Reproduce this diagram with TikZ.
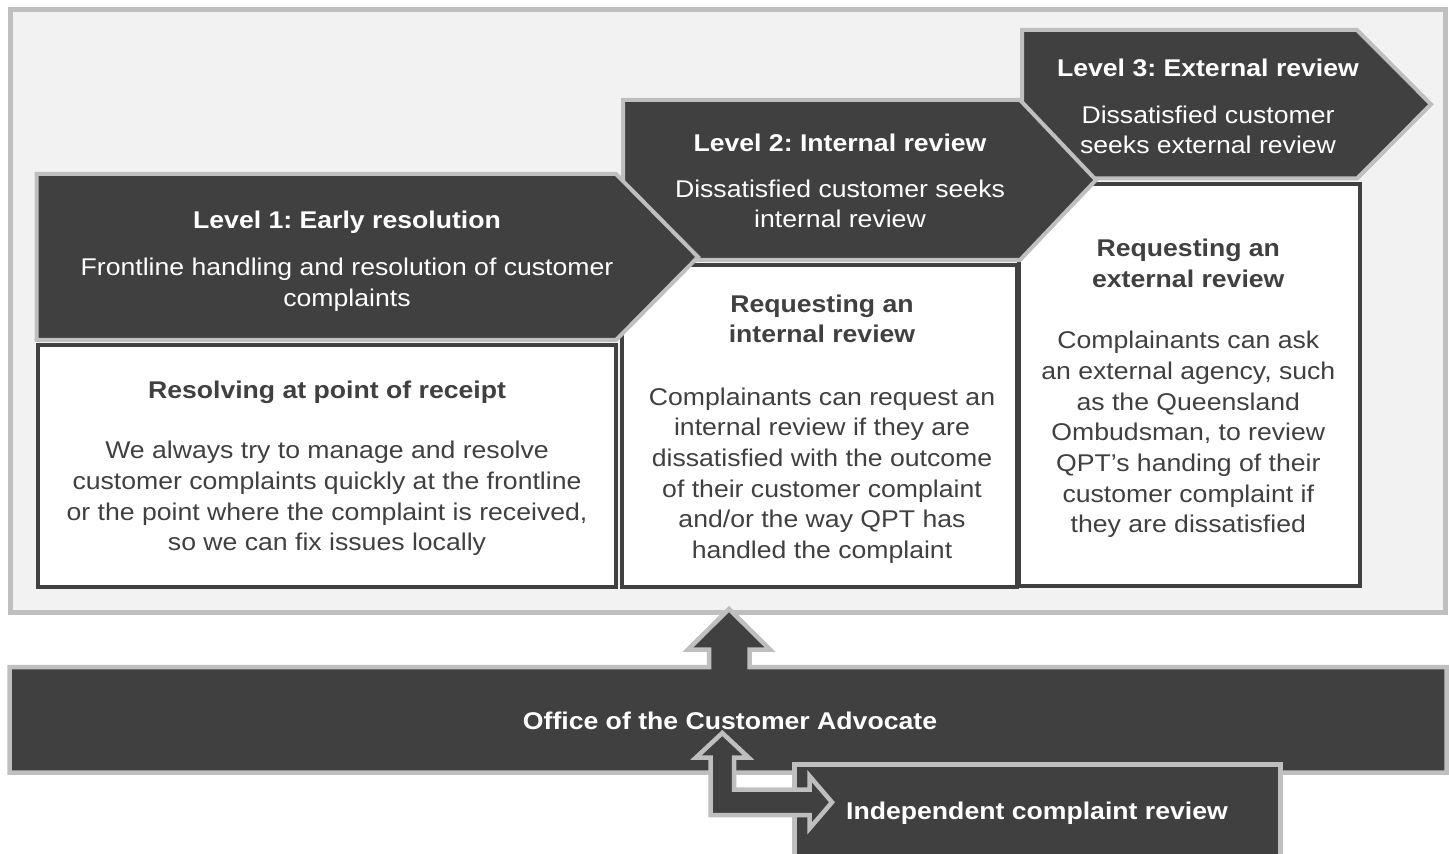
\documentclass[tikz,border=0pt]{standalone}
\usepackage{fontspec}
\setmainfont{Liberation Sans}[FakeStretch=1.1]
\definecolor{dark}{HTML}{404040}
\definecolor{edge}{HTML}{BFBFBF}
\definecolor{lightbg}{HTML}{F2F2F2}
\newcommand\firststrut{\rule{0pt}{10pt}}
\frenchspacing
\tikzset{
  frame/.style={fill=lightbg, draw=edge, line width=2.5pt},
  chev/.style={fill=dark, draw=edge, line width=2pt},
  wbox/.style={fill=white, draw=dark, line width=2pt},
  blockarrow/.style={fill=dark, draw=edge, line width=2.25pt},
  basetext/.style={align=center, inner sep=0pt, font=\fontsize{12.1}{15.35}\selectfont},
  wtext/.style={basetext, text=white},
  dtext/.style={basetext, text=dark},
}
\begin{document}
\frenchspacing
\begin{tikzpicture}[x=0.5pt,y=-0.5pt]
\useasboundingbox (0,0) rectangle (1449,854);
\clip (0,0) rectangle (1449,854);
% outer frame
\draw[frame] (10,9.5) rectangle (1445.5,612.5);
% level 3
\draw[chev] (1022,30) -- (1357,30) -- (1431,104.25) -- (1357,178.5) -- (1022,178.5) -- cycle;
\draw[wbox] (1018.5,184) rectangle (1360,585.5);
% level 2
\draw[chev] (623,100) -- (1020,100) -- (1096,180) -- (1020,260) -- (623,260) -- cycle;
\draw[wbox] (621.5,265) rectangle (1017,587);
% level 1
\draw[chev] (36.5,174) -- (616,174) -- (698,257) -- (616,340) -- (36.5,340) -- cycle;
\draw[wbox] (37.5,345) rectangle (615.5,587);
% office bar with up arrow
\draw[blockarrow] (9.5,667) -- (709,667) -- (709,649.5) -- (688,649.5) -- (729,609)
  -- (770,649.5) -- (749.5,649.5) -- (749.5,667) -- (1446.5,667) -- (1446.5,772.5)
  -- (9.5,772.5) -- cycle;
% independent review box
\draw[blockarrow] (794.5,900) -- (794.5,764.5) -- (1280.5,764.5) -- (1280.5,900);
% bent double arrow
\draw[blockarrow] (722.3,733) -- (748.5,757.5) -- (734,757.5) -- (734,789.5) -- (809.5,789.5)
  -- (809.5,776) -- (832,802.3) -- (809.5,828.5) -- (809.5,815) -- (710.5,815)
  -- (710.5,757.5) -- (696,757.5) -- cycle;
% texts
\node[wtext, anchor=north] (l1) at (347,208.3) {\firststrut\textbf{Level 1: Early resolution}\\[8pt]Frontline handling and resolution of customer\\complaints};
\node[wtext, anchor=north] (l2) at (840,130.7) {\firststrut\textbf{Level 2: Internal review}\\[7.7pt]Dissatisfied customer seeks\\internal review};
\node[wtext, anchor=north] (l3) at (1208,56) {\firststrut\textbf{Level 3: External review}\\[8pt]Dissatisfied customer\\seeks external review};
\node[dtext, anchor=north] (b1) at (327,378) {\firststrut\textbf{Resolving at point of receipt}\\[14.8pt]We always try to manage and resolve\\customer complaints quickly at the frontline\\or the point where the complaint is received,\\so we can fix issues locally};
\node[dtext, anchor=north] (b2) at (822,291.7) {\firststrut\textbf{Requesting an}\\\textbf{internal review}\\[15.8pt]Complainants can request an\\internal review if they are\\dissatisfied with the outcome\\of their customer complaint\\and/or the way QPT has\\handled the complaint};
\node[dtext, anchor=north] (b3) at (1188.3,236) {\firststrut\textbf{Requesting an}\\\textbf{external review}\\[15.5pt]Complainants can ask\\an external agency, such\\as the Queensland\\Ombudsman, to review\\QPT’s handing of their\\customer complaint if\\they are dissatisfied};
\node[wtext, anchor=base] (oca) at (730,729.3) {\textbf{Office of the Customer Advocate}};
\node[wtext, anchor=base] (icr) at (1037,819.3) {\textbf{Independent complaint review}};
\end{tikzpicture}
\end{document}
